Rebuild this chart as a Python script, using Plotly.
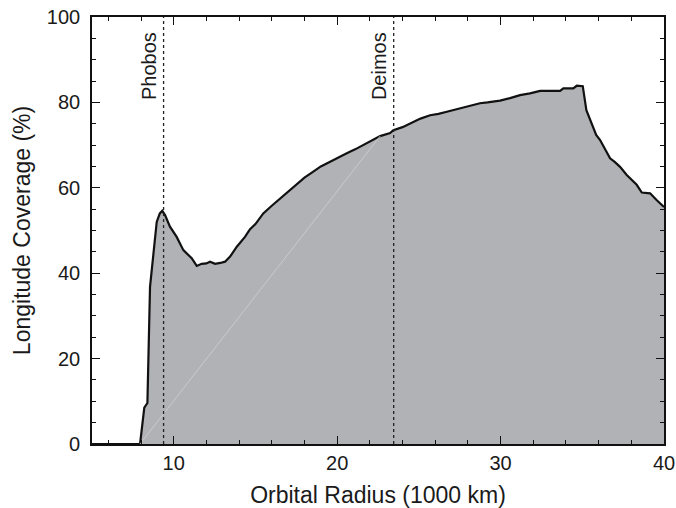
import plotly.graph_objects as go

# ---- data ----
radius = [5.0, 7.94, 8.20, 8.39, 8.55, 8.75, 8.96, 9.15, 9.30, 9.47, 9.77, 10.18, 10.59, 11.10,
          11.41, 11.71, 12.0, 12.22, 12.53, 12.85, 13.14, 13.45, 13.86, 14.36, 14.67, 15.0,
          15.48, 16.0, 16.51, 17.0, 17.53, 18.0, 18.54, 19.0, 19.57, 20.0, 20.59, 21.1, 21.60,
          22.1, 22.63, 23.24, 23.44, 24.0, 24.46, 25.1, 25.69, 26.2, 26.71, 27.2, 27.72, 28.2,
          28.74, 29.2, 29.56, 29.97, 30.58, 31.19, 31.80, 32.42, 33.0, 33.64, 33.84, 34.45,
          34.66, 35.03, 35.25, 35.55, 35.85, 36.09, 36.40, 36.70, 37.00, 37.31, 37.72, 38.00,
          38.33, 38.64, 39.15, 39.56, 40.0]
coverage = [0, 0, 8.5, 9.6, 36.8, 43.9, 52.0, 54.0, 54.6, 53.6, 50.9, 48.5, 45.4, 43.5,
            41.7, 42.2, 42.3, 42.7, 42.2, 42.4, 42.7, 43.9, 46.2, 48.5, 50.3, 51.5,
            54.0, 55.8, 57.5, 59.3, 61.0, 62.4, 63.8, 65.0, 66.1, 67.0, 68.1, 69.0, 70.0,
            71.0, 72.1, 72.8, 73.5, 74.2, 75.1, 76.2, 77.0, 77.3, 77.8, 78.3, 78.8, 79.3,
            79.8, 80.0, 80.2, 80.4, 81.0, 81.7, 82.1, 82.7, 82.7, 82.7, 83.3, 83.3,
            83.9, 83.8, 78.2, 75.3, 72.4, 71.2, 69.0, 66.9, 66.0, 64.9, 63.0, 62.0,
            60.7, 58.9, 58.7, 57.1, 55.5]
moons = ["Phobos", "Deimos"]
moon_radius = [9.38, 23.46]
seam_idx = [1, 40]  # faint rendering seam visible in the fill

FONT = "Liberation Sans, Arial, Helvetica, sans-serif"
FILL = "#b1b2b5"
TXT = "#1a1a1a"

fig = go.Figure()
fig.add_trace(go.Scatter(x=radius, y=coverage, mode="lines", fill="tozeroy",
                         fillcolor=FILL, line=dict(color="#111111", width=2.2),
                         hoverinfo="skip", showlegend=False))
fig.add_trace(go.Scatter(x=[radius[i] for i in seam_idx], y=[coverage[i] for i in seam_idx],
                         mode="lines", line=dict(color="#cfd0d2", width=0.8),
                         hoverinfo="skip", showlegend=False))

for name, r in zip(moons, moon_radius):
    fig.add_shape(type="line", x0=r, x1=r, y0=0, y1=1, xref="x", yref="paper",
                  line=dict(color="#222222", width=1.3, dash="dot"))
    fig.add_annotation(x=r, y=80, xref="x", yref="y", text=name, textangle=-90,
                       showarrow=False, xanchor="right", yanchor="bottom", xshift=-1,
                       font=dict(family=FONT, size=20, color=TXT))

axis_common = dict(showline=True, linecolor="#111111", linewidth=1.6, mirror="ticks",
                   ticks="inside", ticklen=8, tickwidth=1.3, tickcolor="#111111",
                   showgrid=False, zeroline=False, automargin=False,
                   tickfont=dict(family=FONT, size=20, color=TXT))

fig.update_xaxes(range=[5, 40], dtick=10, tick0=0,
                 minor=dict(dtick=2, ticks="inside", ticklen=4, tickcolor="#111111", tickwidth=1.2),
                 title=dict(text="Orbital Radius (1000 km)", standoff=14,
                            font=dict(family=FONT, size=23, color=TXT)),
                 **axis_common)
fig.update_yaxes(range=[0, 100], dtick=20, tick0=0, ticklabelstandoff=6,
                 minor=dict(dtick=5, ticks="inside", ticklen=4, tickcolor="#111111", tickwidth=1.2),
                 title=dict(text="Longitude Coverage (%)", standoff=10,
                            font=dict(family=FONT, size=23, color=TXT)),
                 **axis_common)

fig.update_layout(width=676, height=508, margin=dict(l=92, r=12, t=17, b=64),
                  paper_bgcolor="white", plot_bgcolor="white",
                  font=dict(family=FONT, size=20, color=TXT))

fig.write_html("out.html")
